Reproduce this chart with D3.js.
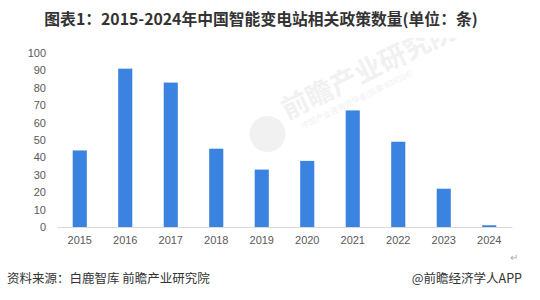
<!DOCTYPE html>
<html>
<head>
<meta charset="utf-8">
<script src="https://cdn.jsdelivr.net/npm/d3@7"></script>
<style>
  body { margin: 0; background: #fff; }
  text { font-family: "Microsoft YaHei", "Noto Sans CJK SC", sans-serif; }
</style>
</head>
<body>
<div id="chart-area"></div>
<script>
// data
var years = ["2015","2016","2017","2018","2019","2020","2021","2022","2023","2024"];
var counts = [44, 91, 83, 45, 33, 38, 67, 49, 22, 1];
var yTicks = [0,10,20,30,40,50,60,70,80,90,100];

var margin = {top: 53, bottom: 73, right: 28, left: 57};
var width = 540 - margin.left - margin.right;
var height = 300 - margin.top - margin.bottom;

var svg = d3.select("#chart-area")
	.append("svg")
	.attr("width", 540)
	.attr("height", 300);

// title
svg.append("text")
	.attr("x", 261)
	.attr("y", 25)
	.attr("text-anchor", "middle")
	.attr("font-size", "15.8px")
	.attr("font-weight", "bold")
	.attr("fill", "#333")
	.text("图表1：2015-2024年中国智能变电站相关政策数量(单位：条)");

// faint watermark, clipped below the title
svg.append("clipPath").attr("id", "wmclip")
	.append("rect").attr("x", 0).attr("y", 38).attr("width", 540).attr("height", 200);
var wm = svg.append("g")
	.attr("clip-path", "url(#wmclip)")
	.append("g")
	.attr("transform", "translate(282,118) rotate(-26)")
	.attr("fill", "#f1f1f1");
wm.append("circle").attr("cx", -20).attr("cy", 8).attr("r", 18);
wm.append("text")
	.attr("x", 4).attr("y", 4)
	.attr("font-size", "27px")
	.attr("font-weight", "bold")
	.text("前瞻产业研究院");
wm.append("text")
	.attr("x", 14).attr("y", 19)
	.attr("font-size", "8px")
	.text("中国产业咨询领导者(股票:839504)");

var g = svg.append("g")
	.attr("transform", "translate(" + margin.left + "," + margin.top + ")");

var x = d3.scaleBand()
	.domain(years)
	.range([0, width])
	.paddingInner(0.69)
	.paddingOuter(0.345);

var y = d3.scaleLinear()
	.domain([0, 100])
	.range([height, 0]);

// y axis labels
g.append("g")
	.attr("class", "yAxis")
	.call(d3.axisLeft(y).tickValues(yTicks).tickSize(0).tickPadding(11))
	.call(function(a){ a.select(".domain").remove(); })
	.selectAll("text")
	.attr("font-size", "11px")
	.attr("fill", "#595959")
	.style("font-family", "Arial, 'Liberation Sans', sans-serif");

// bars
g.append("g")
	.attr("class", "bars")
	.selectAll("rect")
	.data(counts)
	.enter()
	.append("rect")
	.attr("x", function(d, i){ return x(years[i]); })
	.attr("y", function(d){ return y(d); })
	.attr("width", x.bandwidth())
	.attr("height", function(d){ return height - y(d); })
	.attr("fill", "#3b83e0");

// x axis
var xAxis = g.append("g")
	.attr("class", "xAxis")
	.attr("transform", "translate(0," + height + ")")
	.call(d3.axisBottom(x).tickSize(0).tickPadding(9));
xAxis.select(".domain").attr("stroke", "#d9d9d9").attr("stroke-width", 1);
xAxis.selectAll("text")
	.attr("font-size", "11px")
	.attr("fill", "#595959")
	.style("font-family", "Arial, 'Liberation Sans', sans-serif");

// return mark
svg.append("text")
	.attr("x", 510).attr("y", 261)
	.attr("font-size", "10px")
	.attr("fill", "#aaa")
	.text("↵");

// footer
svg.append("text")
	.attr("x", 7).attr("y", 283)
	.attr("font-size", "12.5px")
	.attr("fill", "#333")
	.text("资料来源：白鹿智库 前瞻产业研究院");

svg.append("text")
	.attr("x", 522).attr("y", 283)
	.attr("text-anchor", "end")
	.attr("font-size", "12.5px")
	.attr("fill", "#333")
	.text("@前瞻经济学人APP");
</script>
</body>
</html>
